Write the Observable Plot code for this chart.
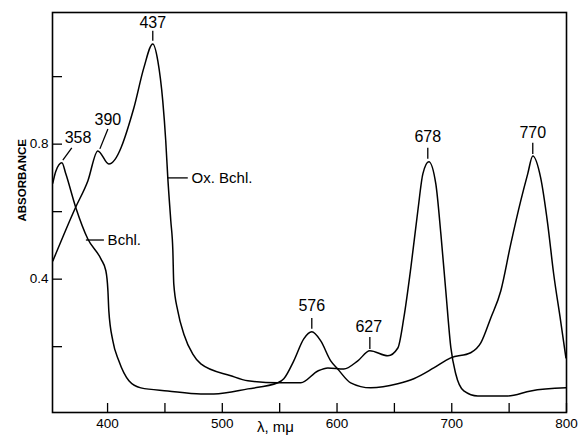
<!DOCTYPE html>
<html>
<head>
<meta charset="utf-8">
<script src="https://cdn.jsdelivr.net/npm/d3@7"></script>
<script src="https://cdn.jsdelivr.net/npm/@observablehq/plot@0.6"></script>
<style>
  html, body { margin: 0; padding: 0; background: #fff; }
  #chart { width: 578px; height: 438px; }
</style>
</head>
<body>
<div id="chart"></div>
<script>
// Bacteriochlorophyll (Bchl.) spectrum: wavelength (mμ) and absorbance
const bchlWavelength = [352.3, 354.9, 360.2, 363.6, 372.4, 382.8, 394.2, 398.5, 400.3, 401.1, 404.6, 409.8, 418.6, 429.0, 452.5, 481.3, 492.6, 522.3, 548.4, 553.6, 562.3, 571.0, 578.0, 585.8, 594.5, 600.6, 611.9, 629.4, 652.9, 666.9, 684.3, 699.1, 716.5, 725.3, 734.0, 742.7, 751.4, 760.1, 766.2, 770.6, 777.5, 783.6, 788.8, 794.9, 799.5];
const bchlAbsorbance = [0.685, 0.720, 0.745, 0.712, 0.611, 0.519, 0.460, 0.425, 0.366, 0.306, 0.217, 0.158, 0.099, 0.078, 0.069, 0.060, 0.060, 0.075, 0.093, 0.105, 0.158, 0.223, 0.244, 0.217, 0.158, 0.134, 0.093, 0.078, 0.090, 0.105, 0.137, 0.167, 0.182, 0.211, 0.285, 0.365, 0.504, 0.632, 0.712, 0.765, 0.700, 0.564, 0.416, 0.276, 0.167];

// Oxidized bacteriochlorophyll (Ox. Bchl.) spectrum
const oxWavelength = [352.3, 371.5, 382.8, 391.5, 401.1, 422.9, 431.6, 439.4, 443.8, 448.1, 450.7, 452.5, 455.1, 456.9, 457.7, 461.2, 466.5, 474.3, 481.3, 507.4, 522.3, 548.4, 568.4, 583.3, 592.0, 605.9, 618.1, 628.6, 644.3, 653.0, 658.2, 664.3, 670.4, 674.8, 680.0, 686.1, 690.5, 694.8, 699.2, 703.5, 710.5, 722.7, 748.8, 768.9, 799.5];
const oxAbsorbance = [0.454, 0.608, 0.691, 0.780, 0.741, 0.907, 1.026, 1.097, 1.047, 0.928, 0.810, 0.700, 0.573, 0.484, 0.386, 0.306, 0.237, 0.178, 0.149, 0.114, 0.099, 0.093, 0.093, 0.128, 0.137, 0.134, 0.158, 0.188, 0.173, 0.196, 0.285, 0.433, 0.602, 0.712, 0.748, 0.682, 0.534, 0.365, 0.197, 0.119, 0.069, 0.054, 0.054, 0.069, 0.078];

// Axis ticks
const xTickValues = [400, 450, 500, 550, 600, 650, 700, 750, 800];
const xTickLabels = [400, 500, 600, 700, 800];
const yTickValues = [0.2, 0.4, 0.6, 0.8, 1.0];
const yTickLabels = [0.4, 0.8];
const xAxisTitle = "λ, mμ";
const yAxisTitle = "ABSORBANCE";

// Peak annotations (label, label position, leader line ends) in data units
const peakLabels = ["358", "390", "437", "576", "627", "678", "770"];
const peakTextX = [374.2, 400.3, 439.4, 578.0, 627.7, 679.1, 770.6];
const peakTextY = [0.819, 0.871, 1.158, 0.321, 0.259, 0.821, 0.833];
const peakLeadX1 = [361.0, 393.3, 439.4, 578.0, 628.6, 679.1, 770.6];
const peakLeadY1 = [0.753, 0.786, 1.106, 0.253, 0.193, 0.757, 0.771];
const peakLeadX2 = [368.8, 400.3, 439.4, 578.0, 628.6, 679.1, 770.6];
const peakLeadY2 = [0.789, 0.845, 1.136, 0.285, 0.229, 0.789, 0.804];

// Curve name annotations
const curveNames = ["Ox. Bchl.", "Bchl."];
const curveLeadX1 = [452.5, 381.1];
const curveLeadX2 = [469.9, 396.8];
const curveLeadY = [0.700, 0.516];
const curveTextX = [471.5, 398.3];

const bchl = bchlWavelength.map((w, i) => ({w, a: bchlAbsorbance[i]}));
const ox = oxWavelength.map((w, i) => ({w, a: oxAbsorbance[i]}));
const peaks = peakLabels.map((t, i) => ({t, x: peakTextX[i], y: peakTextY[i], x1: peakLeadX1[i], y1: peakLeadY1[i], x2: peakLeadX2[i], y2: peakLeadY2[i]}));
const curves = curveNames.map((t, i) => ({t, x1: curveLeadX1[i], x2: curveLeadX2[i], y: curveLeadY[i], tx: curveTextX[i]}));

const font = "'Liberation Sans', Arial, sans-serif";

const chart = Plot.plot({
  width: 578,
  height: 438,
  marginLeft: 52,
  marginRight: 12,
  marginTop: 12,
  marginBottom: 26,
  x: {domain: [352, 800]},
  y: {domain: [0.005, 1.19]},
  style: {fontFamily: font, fontSize: "13px", background: "#fff", color: "#000"},
  marks: [
    Plot.axisX({ticks: xTickValues, tickSize: -9, tickFormat: () => "", label: null, strokeWidth: 1.3}),
    Plot.axisY({ticks: yTickValues, tickSize: -10, tickFormat: () => "", label: null, strokeWidth: 1.3}),
    Plot.text(xTickLabels, {x: d => d, frameAnchor: "bottom", dy: 11, lineAnchor: "middle", fontSize: 13.5, fill: "#000", text: d => String(d)}),
    Plot.text(yTickLabels, {y: d => d, frameAnchor: "left", dx: -4, textAnchor: "end", fontSize: 13.5, fill: "#000", text: d => d.toFixed(1)}),
    Plot.frame({stroke: "#000", strokeWidth: 1.6}),
    Plot.text([yAxisTitle], {frameAnchor: "left", rotate: -90, dx: -30, dy: 9, fontSize: 11.5, fontWeight: "bold", text: d => d}),
    Plot.text([xAxisTitle], {frameAnchor: "bottom", dx: -34, dy: 19, fontSize: 15, text: d => d}),
    Plot.line(bchl, {x: "w", y: "a", stroke: "#000", strokeWidth: 1.5, curve: "monotone-x"}),
    Plot.line(ox, {x: "w", y: "a", stroke: "#000", strokeWidth: 1.5, curve: "monotone-x"}),
    Plot.link(peaks, {x1: "x1", y1: "y1", x2: "x2", y2: "y2", stroke: "#000", strokeWidth: 1.3}),
    Plot.text(peaks, {x: "x", y: "y", text: "t", fontSize: 16, fill: "#000"}),
    Plot.link(curves, {x1: "x1", y1: "y", x2: "x2", y2: "y", stroke: "#000", strokeWidth: 1.3}),
    Plot.text(curves, {x: "tx", y: "y", text: "t", textAnchor: "start", fontSize: 15, fill: "#000", dx: 2})
  ]
});
document.getElementById("chart").appendChild(chart);
</script>
</body>
</html>
